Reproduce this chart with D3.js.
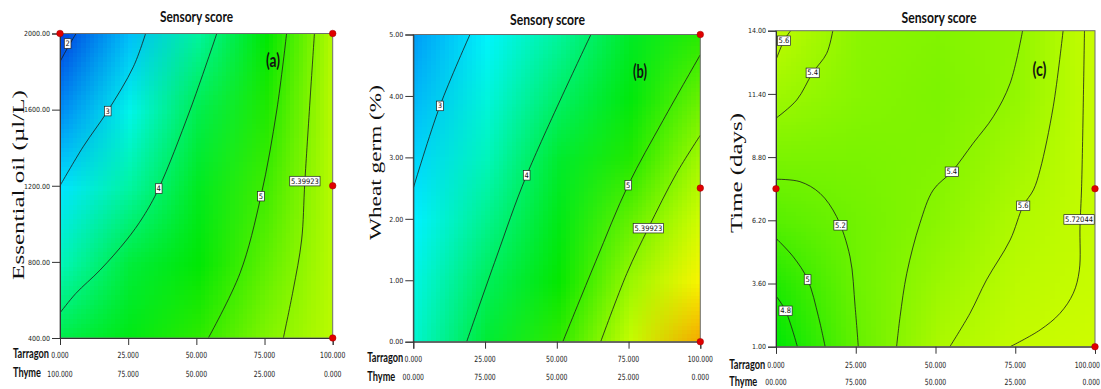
<!DOCTYPE html>
<html>
<head>
<meta charset="utf-8">
<script src="https://cdn.jsdelivr.net/npm/d3@7"></script>
<style>
  body { margin: 0; background: #fff; }
  svg { display: block; }
</style>
</head>
<body>
<svg id="chart" width="1101" height="389"></svg>
<script>
// x axis: tarragon share, thyme is the rest
const tarragon = [0, 25, 50, 75, 100];
const tarragonLabels = ["0.000", "25.000", "50.000", "75.000", "100.000"];
const thymeLabelsA = ["100.000", "75.000", "50.000", "25.000", "0.000"];
const thymeLabelsBC = ["00.000", "75.000", "50.000", "25.000", "0.000"];

// y axes
const oilTicks = [2000, 1600, 1200, 800, 400];
const germTicks = [5, 4, 3, 2, 1, 0];
const timeTicks = [14, 11.4, 8.8, 6.2, 3.6, 1];

// sensory score read at tick crossings, rows = y ticks (top first), cols = tarragon
const scoreA = [
  [1.77, 2.75, 3.71, 4.68, 5.66],
  [2.42, 3.25, 4.07, 4.86, 5.68],
  [3.00, 3.69, 4.36, 5.02, 5.66],
  [3.58, 4.15, 4.65, 5.15, 5.65],
  [4.10, 4.50, 4.93, 5.30, 5.66]
];
const scoreB = [
  [2.53, 3.12, 3.72, 4.31, 4.91],
  [2.70, 3.33, 3.95, 4.58, 5.20],
  [2.90, 3.56, 4.22, 4.87, 5.53],
  [3.08, 3.78, 4.47, 5.17, 5.85],
  [3.30, 4.01, 4.72, 5.45, 6.25],
  [3.44, 4.19, 4.94, 5.75, 6.60]
];
const scoreC = [
  [5.67, 5.36, 5.30, 5.39, 5.78],
  [5.47, 5.33, 5.28, 5.41, 5.76],
  [5.27, 5.27, 5.30, 5.50, 5.75],
  [5.12, 5.23, 5.35, 5.58, 5.74],
  [4.87, 5.22, 5.45, 5.66, 5.75],
  [4.65, 5.18, 5.55, 5.73, 5.80]
];

// contour lines [tarragon, y] and where their label sits
const contoursA = [
  {level: "2", pts: [[5.9, 2000], [3, 1930], [0, 1852]], at: [2.8, 1948]},
  {level: "3", pts: [[31.4, 2000], [26.9, 1825], [17.5, 1593], [8.5, 1405], [0, 1200]], at: [17.5, 1593]},
  {level: "4", pts: [[57.5, 2000], [47.7, 1598], [36.2, 1186], [30.5, 1037], [24.4, 915], [14.7, 757], [5.8, 634], [0, 532]], at: [36.2, 1186]},
  {level: "5", pts: [[83.1, 2000], [79.5, 1598], [73.7, 1146], [66, 740], [54.4, 400]], at: [73.7, 1146]},
  {level: "5.39923", pts: [[93.3, 2000], [89.8, 1225], [88.6, 915], [85.5, 652], [81.9, 400]], at: [89.8, 1225]}
];
const contoursB = [
  {level: "3", pts: [[19.75, 5], [9.3, 3.84], [0, 2.5]], at: [9.3, 3.84]},
  {level: "4", pts: [[61.9, 5], [39.5, 2.71], [29, 1.38], [18.6, 0]], at: [39.5, 2.71]},
  {level: "5", pts: [[100, 4.67], [87, 3.6], [74.9, 2.55], [63.5, 1.3], [52.1, 0]], at: [74.9, 2.55]},
  {level: "5.39923", pts: [[100, 3.36], [91.7, 2.74], [81.9, 1.85], [74.4, 1.11], [65.3, 0]], at: [81.9, 1.85]}
];
const contoursC = [
  {level: "5.6", pts: [[4.6, 14], [2.5, 13.59], [0, 12.8]], at: [2.5, 13.59]},
  {level: "5.4", pts: [[17.8, 14], [15.9, 13.07], [11.5, 12.27], [6.5, 11.15], [0, 10.4]], at: [11.5, 12.27]},
  {level: "5.2", pts: [[0, 7.89], [7.5, 7.79], [13.8, 7.31], [19, 6.35], [23.2, 4.7], [24.8, 2.65], [25.8, 1]], at: [20.2, 6.0]},
  {level: "5", pts: [[0, 5.46], [5.4, 4.7], [9.9, 3.77], [13.3, 2.24], [15.4, 1]], at: [9.9, 3.77]},
  {level: "4.8", pts: [[0, 3.09], [3.0, 2.48], [6.7, 1]], at: [3.0, 2.48]},
  {level: "5.4", pts: [[77.3, 14], [73.4, 11.84], [68.1, 10.46], [61.8, 9.37], [55.1, 8.2], [49.3, 7.45], [45.1, 6.07], [41, 4.02], [38.9, 2.24], [37.8, 1]], at: [55.1, 8.2]},
  {level: "5.6", pts: [[90, 14], [86.9, 10.87], [82.8, 8.28], [80.7, 7.45], [77.5, 6.8], [73.4, 5.39], [66, 3.75], [60.8, 2.37], [54.5, 1]], at: [77.5, 6.8]},
  {level: "5.72044", pts: [[96.7, 14], [95.8, 7.58], [95.3, 5.94], [95.1, 4.16], [93.2, 3.2], [89, 2.37], [82.8, 1.69], [73.4, 1]], at: [95, 6.24]}
];

// design points
const pointsA = [[0, 2000], [100, 2000], [100, 1200], [100, 400]];
const pointsB = [[100, 5], [100, 2.5], [100, 0]];
const pointsC = [[0, 7.5], [100, 7.5], [100, 1]];

// Design-Expert like colour ramp
const colour = d3.scaleLinear()
  .domain([1.7, 2.4, 3.1, 3.6, 4.2, 4.7, 5.0, 5.3, 5.6, 5.9, 6.2, 6.7])
  .range(["#0040e0", "#008cf5", "#00f4ff", "#00f6b4", "#00ec30", "#00e800", "#3cec00", "#82f500", "#b4fa00", "#dcff00", "#ffff00", "#f58c00"])
  .interpolate(d3.interpolateRgb)
  .clamp(true);

const narrow = "'Liberation Sans Narrow', 'DejaVu Sans Condensed', sans-serif";
const boldFont = "Lato, 'Liberation Sans', sans-serif";
const serif = "'Liberation Serif', 'DejaVu Serif', serif";

const panels = [
  {id: "a", left: 60, right: 332.7, top: 33.5, bottom: 338, yTicks: oilTicks,
   yTitle: "Essential oil (\u00b5l/L)", yTitlePos: [18, 185, 190],
   grid: scoreA, contours: contoursA, points: pointsA, thyme: thymeLabelsA,
   title: [196.5, 21.5, 73], tag: ["(a)", 273, 67],
   rowLabels: [13, 358.3, 377.3], tickRows: [358.3, 376.5]},
  {id: "b", left: 413.3, right: 700.3, top: 34.5, bottom: 341.7, yTicks: germTicks,
   yTitle: "Wheat germ (%)", yTitlePos: [375.5, 162.5, 155],
   grid: scoreB, contours: contoursB, points: pointsB, thyme: thymeLabelsBC,
   title: [547.5, 25, 75], tag: ["(b)", 640, 78],
   rowLabels: [367.3, 361.7, 380.7], tickRows: [362, 380]},
  {id: "c", left: 776, right: 1095, top: 30.7, bottom: 346.7, yTicks: timeTicks,
   yTitle: "Time (days)", yTitlePos: [736.5, 173, 120],
   grid: scoreC, contours: contoursC, points: pointsC, thyme: thymeLabelsBC,
   title: [939, 23, 75], tag: ["(c)", 1039.5, 76],
   rowLabels: [729.3, 368.8, 385.6], tickRows: [367.5, 385.3]}
];

const svg = d3.select("#chart");
const defs = svg.append("defs");
const pageWidth = 1101;

function fillImage(grid) {
  const ny = grid.length, nx = grid[0].length;
  const cv = document.createElement("canvas");
  cv.width = nx; cv.height = ny;
  const ctx = cv.getContext("2d");
  const img = ctx.createImageData(nx, ny);
  grid.forEach((row, j) => row.forEach((v, i) => {
    const c = d3.rgb(colour(v));
    const k = (j * nx + i) * 4;
    img.data[k] = c.r; img.data[k + 1] = c.g; img.data[k + 2] = c.b; img.data[k + 3] = 255;
  }));
  ctx.putImageData(img, 0, 0);
  return cv.toDataURL();
}

// squeeze a text horizontally to the width it has in the picture
function fit(t, width, before) {
  const w = t.node().getComputedTextLength();
  t.attr("transform", before + " scale(" + (width / w) + ",1)");
}

function drawPanel(p) {
  const yExt = d3.extent(p.yTicks);
  const x = d3.scaleLinear().domain([0, 100]).range([p.left, p.right]);
  const y = d3.scaleLinear().domain(yExt).range([p.bottom, p.top]);
  const g = svg.append("g");

  defs.append("clipPath").attr("id", "clip-" + p.id)
    .append("rect")
    .attr("x", p.left).attr("y", p.top)
    .attr("width", p.right - p.left).attr("height", p.bottom - p.top);

  // colour fill: one pixel per grid value, smoothed by the browser
  const nx = p.grid[0].length, ny = p.grid.length;
  const dx = (x(tarragon[nx - 1]) - x(tarragon[0])) / (nx - 1);
  const dy = (y(p.yTicks[ny - 1]) - y(p.yTicks[0])) / (ny - 1);
  g.append("image")
    .attr("href", fillImage(p.grid))
    .attr("x", x(tarragon[0]) - dx / 2)
    .attr("y", y(p.yTicks[0]) - dy / 2)
    .attr("width", dx * nx)
    .attr("height", dy * ny)
    .attr("preserveAspectRatio", "none")
    .attr("clip-path", "url(#clip-" + p.id + ")");

  // contour lines
  const line = d3.line()
    .x(d => x(d[0]))
    .y(d => y(d[1]))
    .curve(d3.curveCatmullRom.alpha(0.5));
  g.append("g").attr("clip-path", "url(#clip-" + p.id + ")")
    .selectAll("path")
    .data(p.contours)
    .join("path")
    .attr("d", d => line(d.pts))
    .attr("fill", "none")
    .attr("stroke", "#1a1a1a")
    .attr("stroke-width", 0.8);

  // plot frame
  g.append("rect")
    .attr("x", p.left).attr("y", p.top)
    .attr("width", p.right - p.left).attr("height", p.bottom - p.top)
    .attr("fill", "none").attr("stroke", "#6e6e6e").attr("stroke-width", 1);

  // contour labels
  const labs = g.append("g").selectAll("g")
    .data(p.contours)
    .join("g")
    .attr("transform", d => "translate(" + x(d.at[0]) + "," + y(d.at[1]) + ")");
  labs.append("text")
    .attr("text-anchor", "middle")
    .attr("dy", "0.35em")
    .attr("font-family", narrow)
    .attr("font-size", 7.5)
    .attr("fill", "#111")
    .text(d => d.level);
  labs.each(function() {
    const t = d3.select(this).select("text");
    const b = t.node().getBBox();
    d3.select(this).insert("rect", "text")
      .attr("x", b.x - 1.2).attr("y", b.y - 0.3)
      .attr("width", b.width + 2.4).attr("height", b.height + 0.6)
      .attr("fill", "#fff").attr("stroke", "#222").attr("stroke-width", 0.7);
  });

  // y axis
  const yAxis = d3.axisLeft(y)
    .tickValues(p.yTicks)
    .tickFormat(d3.format(".2f"))
    .tickSize(8)
    .tickPadding(2);
  const ya = g.append("g").attr("transform", "translate(" + p.left + ",0)").call(yAxis);
  ya.select(".domain").attr("stroke", "#333");
  ya.selectAll(".tick line").attr("stroke", "#333");
  ya.selectAll(".tick text")
    .attr("font-family", narrow).attr("font-size", 7).attr("fill", "#222");

  // x axis with two rows of labels
  const xAxis = d3.axisBottom(x).tickValues(tarragon).tickSize(7).tickFormat("");
  const xa = g.append("g").attr("transform", "translate(0," + p.bottom + ")").call(xAxis);
  xa.select(".domain").attr("stroke", "#333");
  xa.selectAll(".tick line").attr("stroke", "#333");

  [tarragonLabels, p.thyme].forEach((labels, r) => {
    g.append("g").selectAll("text")
      .data(tarragon)
      .join("text")
      .attr("text-anchor", "middle")
      .attr("font-family", narrow)
      .attr("font-size", 8.5)
      .attr("fill", "#222")
      .text((d, i) => labels[i])
      .each(function(d) {
        const t = d3.select(this);
        const half = t.node().getComputedTextLength() * 0.8 / 2;
        const cx = Math.min(x(d), pageWidth - 1 - half);
        t.attr("transform", "translate(" + cx + "," + p.tickRows[r] + ") scale(0.8,1)");
      });
  });
  ["Tarragon", "Thyme"].forEach((name, r) => {
    const t = g.append("text")
      .attr("font-family", boldFont)
      .attr("font-weight", "bold")
      .attr("font-size", 14)
      .attr("fill", "#111")
      .text(name);
    fit(t, r === 0 ? 36 : 28, "translate(" + p.rowLabels[0] + "," + p.rowLabels[r + 1] + ")");
  });

  // design points
  g.append("g").selectAll("circle")
    .data(p.points)
    .join("circle")
    .attr("cx", d => x(d[0]))
    .attr("cy", d => y(d[1]))
    .attr("r", 3.3)
    .attr("fill", "#e00000")
    .attr("stroke", "#a00000")
    .attr("stroke-width", 0.5);

  // titles
  const title = g.append("text")
    .attr("text-anchor", "middle")
    .attr("font-family", boldFont).attr("font-weight", "bold").attr("font-size", 16)
    .attr("fill", "#111")
    .text("Sensory score");
  fit(title, p.title[2], "translate(" + p.title[0] + "," + p.title[1] + ")");

  const tag = g.append("text")
    .attr("text-anchor", "middle")
    .attr("font-family", boldFont).attr("font-weight", "bold").attr("font-size", 18)
    .attr("fill", "#111")
    .text(p.tag[0]);
  fit(tag, 14, "translate(" + p.tag[1] + "," + p.tag[2] + ")");

  const yt = g.append("text")
    .attr("text-anchor", "middle")
    .attr("dy", "0.35em")
    .attr("font-family", serif).attr("font-size", 17)
    .attr("fill", "#111")
    .text(p.yTitle);
  fit(yt, p.yTitlePos[2], "translate(" + p.yTitlePos[0] + "," + p.yTitlePos[1] + ") rotate(-90)");
}

panels.forEach(drawPanel);
</script>
</body>
</html>
